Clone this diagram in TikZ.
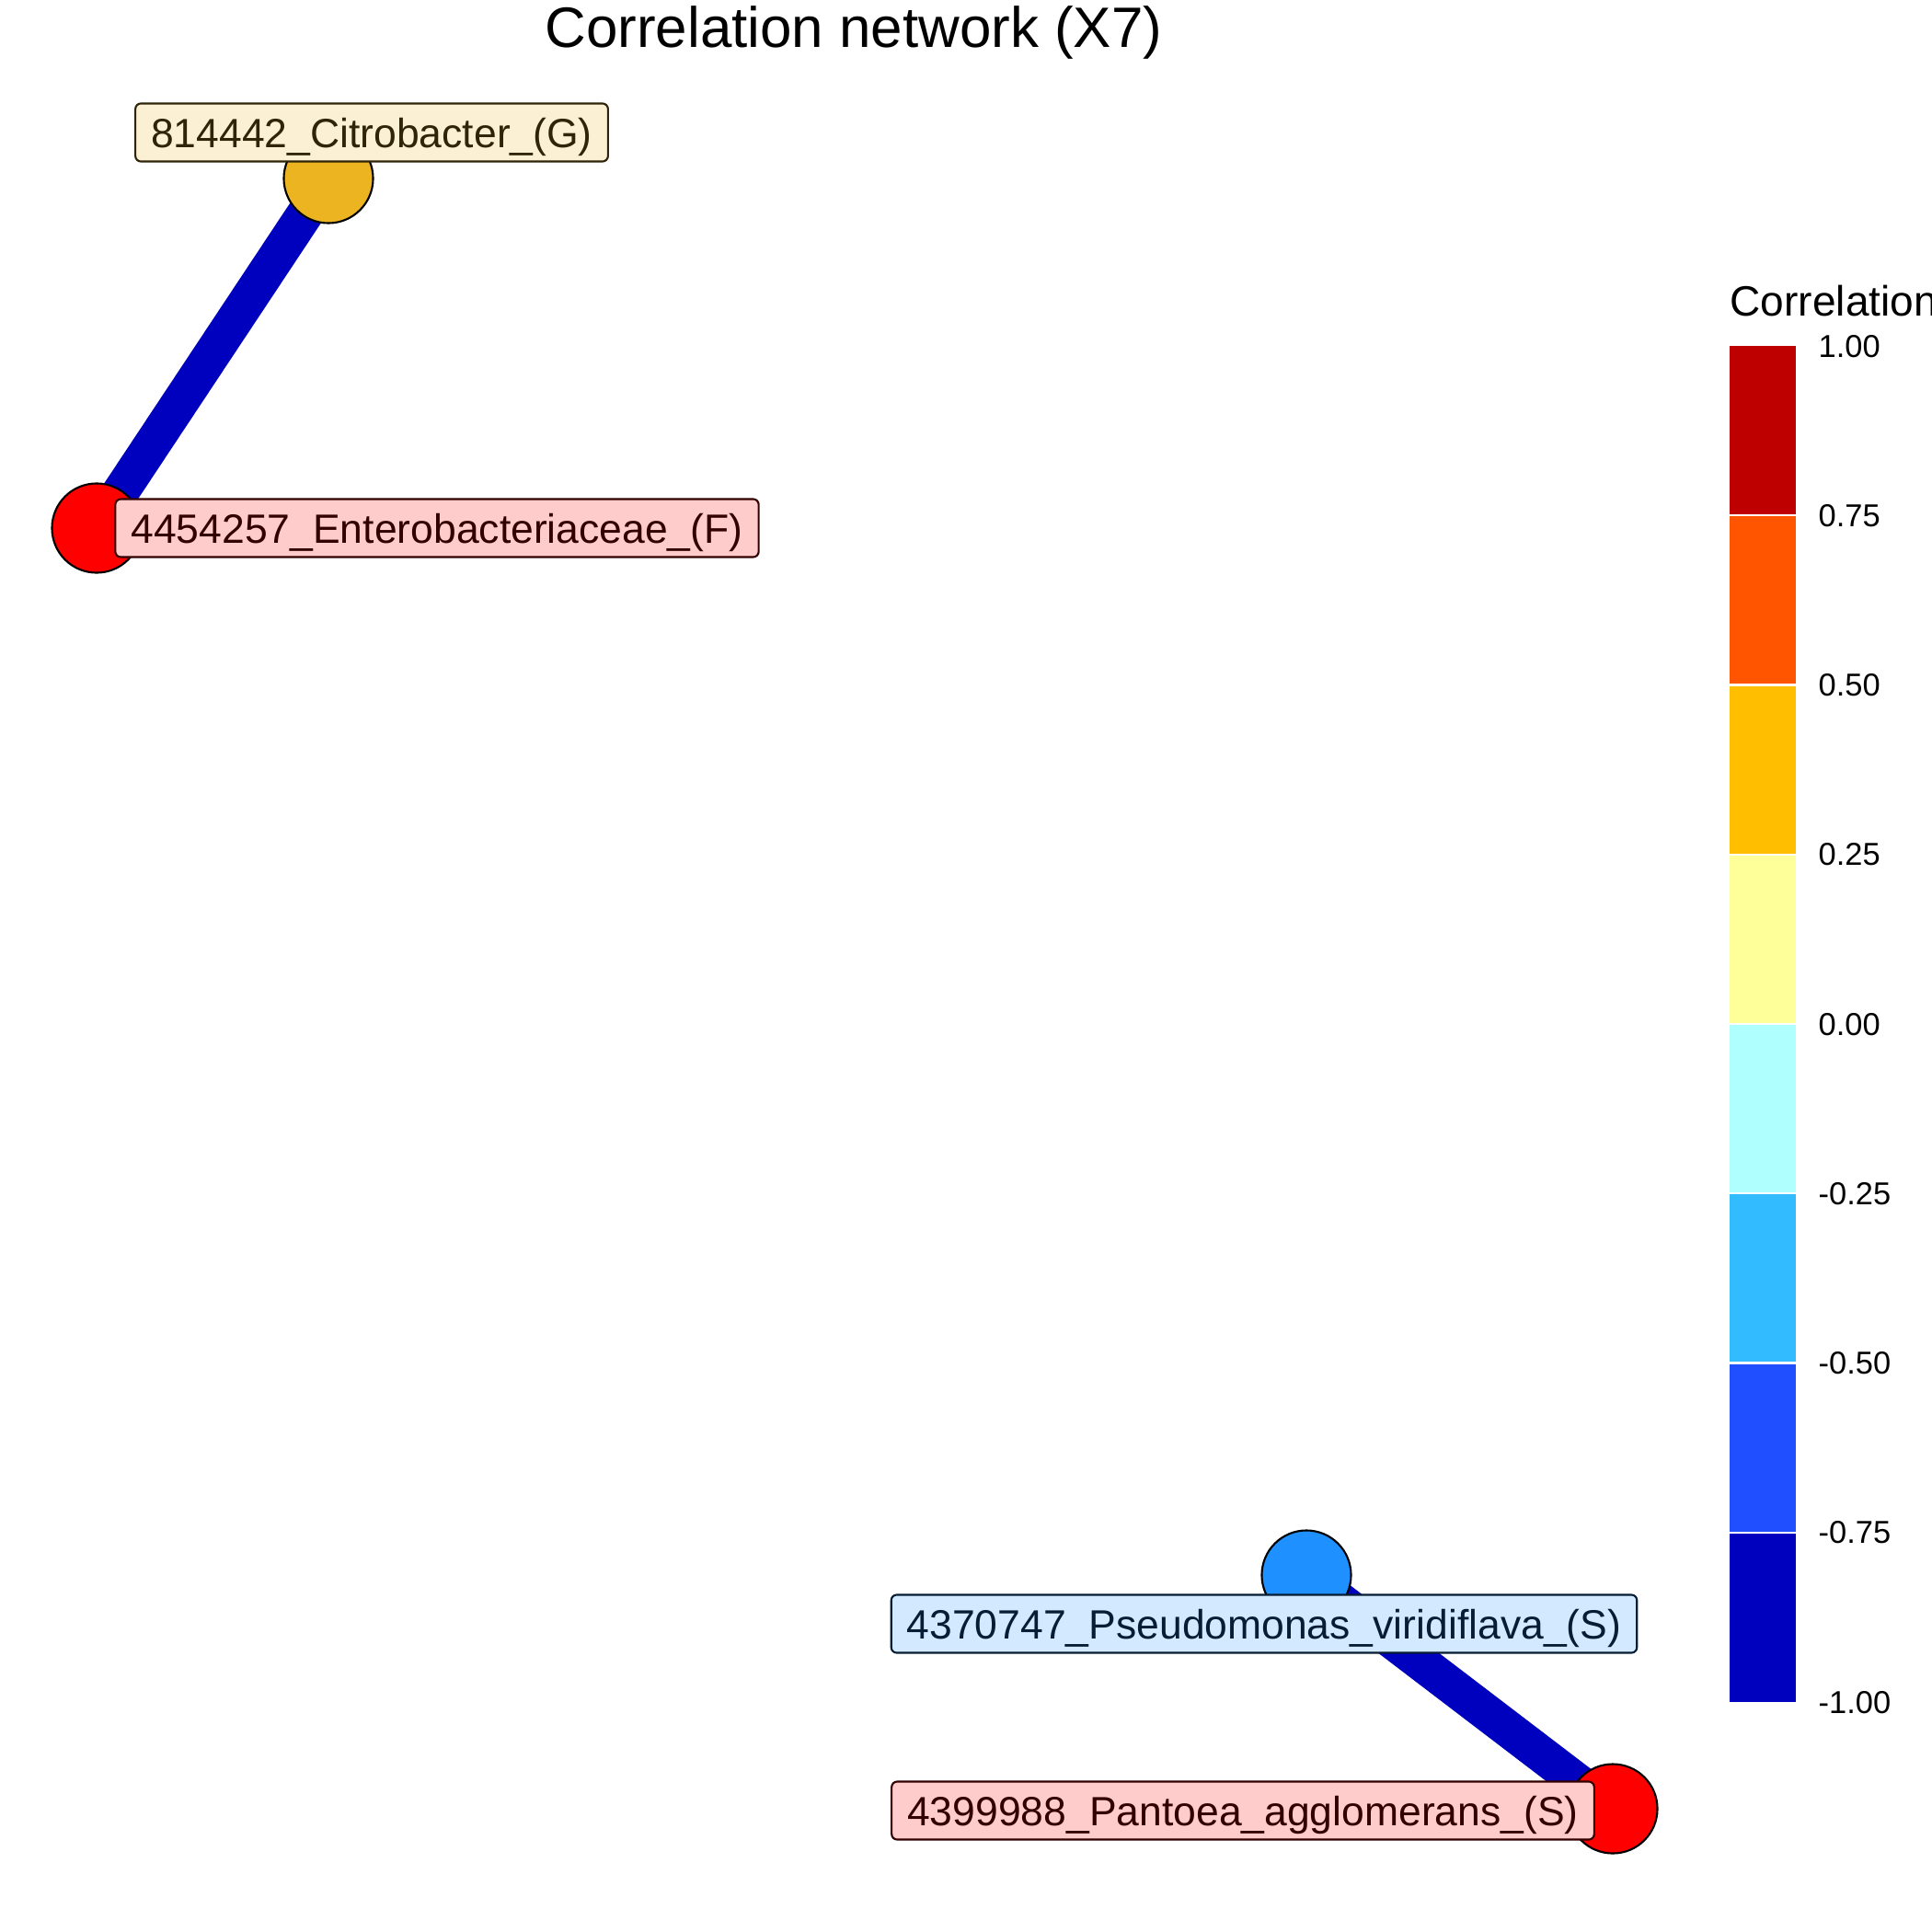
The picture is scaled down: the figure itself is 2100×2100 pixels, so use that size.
\documentclass[tikz,border=0pt]{standalone}
\usepackage{fontspec}
\setmainfont{Liberation Sans}
\usepackage{xcolor}
\usetikzlibrary{backgrounds}
\definecolor{cbred}{RGB}{191,0,0}
\definecolor{cborange}{RGB}{255,85,0}
\definecolor{cbamber}{RGB}{255,191,0}
\definecolor{cbyellow}{RGB}{255,255,153}
\definecolor{cbcyan}{RGB}{175,255,255}
\definecolor{cbsky}{RGB}{51,187,255}
\definecolor{cbblue}{RGB}{31,79,255}
\definecolor{cbnavy}{RGB}{0,0,191}
\definecolor{nodegold}{RGB}{237,180,34}
\definecolor{nodeblue}{RGB}{30,144,255}
\definecolor{nodered}{RGB}{255,0,0}

\begin{document}
\begin{tikzpicture}[x=0.01cm, y=-0.01cm,
    taxon/.style={circle, draw=black, line width=0.6pt, fill=#1, minimum size=0.97cm, inner sep=0pt},
    taxlabel/.style={draw=#1!20!black, fill=#1!20!white, text=#1!20!black, rounded corners=0.06cm,
        line width=0.6pt, inner xsep=0.17cm, inner ysep=0.155cm, text height=0.32cm, text depth=0pt,
        font=\fontsize{12.65}{14}\selectfont},
    corr/.style={draw=cbnavy, line width=0.40cm},
    ticklab/.style={anchor=base west, inner sep=0pt, font=\fontsize{9.8}{11}\selectfont}]
    \useasboundingbox (0,0) rectangle (2100,2100);
    % Title
    \node[anchor=base, font=\fontsize{17.6}{20}\selectfont] (title) at (928,52) {Correlation network (X7)};
    % Taxa
    \node[taxon=nodegold] (cit) at (357,194) {};
    \node[taxon=nodered] (ent) at (105,574) {};
    \node[taxon=nodeblue] (pse) at (1420,1712) {};
    \node[taxon=nodered] (pan) at (1753,1966) {};
    % Correlations
    \begin{scope}[on background layer]
        \draw[corr] (cit.center) -- (ent.center);
        \draw[corr] (pse.center) -- (pan.center);
    \end{scope}
    % Labels
    \node[taxlabel=nodegold] (citlab) at (404,144) {814442\_Citrobacter\_(G)};
    \node[taxlabel=nodered] (entlab) at (475,574) {4454257\_Enterobacteriaceae\_(F)};
    \node[taxlabel=nodeblue] (pselab) at (1374,1765) {4370747\_Pseudomonas\_viridiflava\_(S)};
    \node[taxlabel=nodered] (panlab) at (1351,1968) {4399988\_Pantoea\_agglomerans\_(S)};
    % Colour bar
    \node[anchor=base west, inner sep=0pt, font=\fontsize{13.1}{15}\selectfont] (legtitle) at (1880,343) {Correlation};
    \foreach \c [count=\i from 0] in {cbred,cborange,cbamber,cbyellow,cbcyan,cbsky,cbblue,cbnavy}
        \fill[\c] (1880,{376+184.25*\i}) rectangle (1952,{376+184.25*(\i+1)});
    \foreach \i in {1,...,7}
        \draw[white, line width=0.6pt] (1880,{376+184.25*\i}) -- ++(72,0);
    \foreach \v [count=\i from 0] in {1.00,0.75,0.50,0.25,0.00,-0.25,-0.50,-0.75,-1.00}
        \node[ticklab] (tick\i) at (1976,{376+184.25*\i+12}) {\v};
\end{tikzpicture}
\end{document}
